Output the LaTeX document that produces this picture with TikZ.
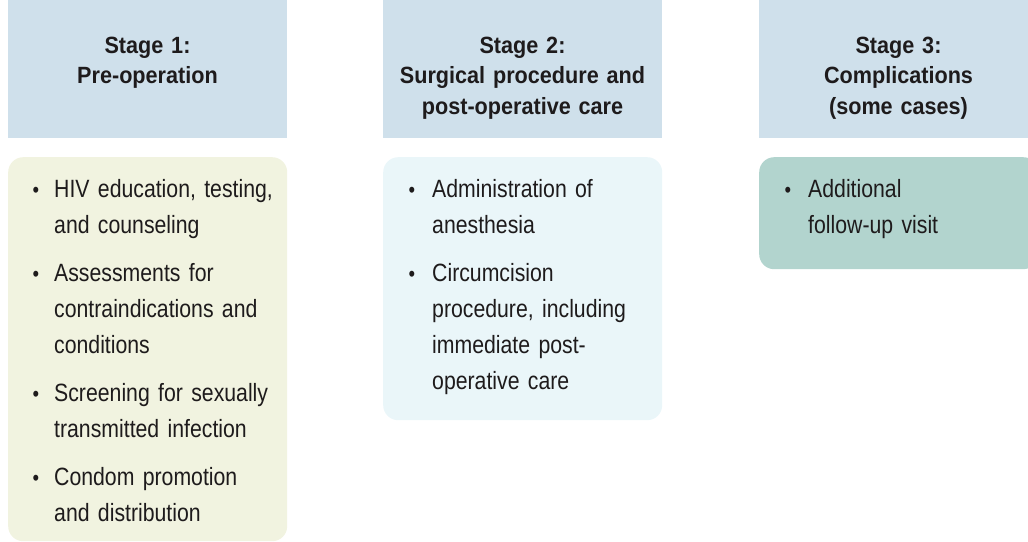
\documentclass[tikz,border=0pt]{standalone}
\usepackage{fontspec}
\setmainfont{Liberation Sans}[FakeStretch=0.85,WordSpace=0.85]
\newfontfamily\hdrfont{Liberation Sans}[FakeStretch=0.92]
\definecolor{hdrblue}{HTML}{CFE0EB}
\definecolor{bodyA}{HTML}{F1F3E0}
\definecolor{bodyB}{HTML}{EAF6F9}
\definecolor{bodyC}{HTML}{B2D4CE}
\definecolor{txt}{HTML}{1E1B1C}
\begin{document}
\begin{tikzpicture}[x=1pt,y=-1pt,
  hdr/.style={fill=hdrblue, draw=none, minimum width=279pt, minimum height=138pt, inner sep=0pt, anchor=north west},
  bodybox/.style={fill=#1, draw=none, rounded corners=15pt, minimum width=279pt, inner sep=0pt, anchor=north west},
  htext/.style={font=\hdrfont\bfseries\fontsize{23.5}{30.5}\selectfont, text width=279pt, align=center, inner sep=0pt, anchor=base, text=txt},
  item/.style={font=\fontsize{25}{36}\selectfont, text width=228pt, align=left, inner sep=0pt, anchor=base west, text=txt},
  bul/.style={font=\fontsize{22}{36}\selectfont, inner sep=0pt, anchor=base, text=txt}]
\useasboundingbox (0,0) rectangle (1028,541);
\clip (0,0) rectangle (1028,541);
% header boxes
\node[hdr] (h1) at (8,0) {};
\node[hdr] (h2) at (383,0) {};
\node[hdr] (h3) at (759,0) {};
\node[htext] (h1t) at (147.5,53) {Stage 1:\\Pre-operation};
\node[htext] (h2t) at (522.5,53) {Stage 2:\\Surgical procedure and\\post-operative care};
\node[htext] (h3t) at (898.5,53) {Stage 3:\\Complications\\(some cases)};
% body boxes
\node[bodybox=bodyA, minimum height=384pt] (b1) at (8,157) {};
\node[bodybox=bodyB, minimum height=263pt] (b2) at (383,157) {};
\node[bodybox=bodyC, minimum height=112pt] (b3) at (759,157) {};
% stage 1 items
\node[bul] (b1i1d) at (36,197) {•};
\node[item] (b1i1) at (54,197) {HIV education, testing,\\and counseling};
\node[bul] (b1i2d) at (36,281) {•};
\node[item] (b1i2) at (54,281) {Assessments for\\contraindications and\\conditions};
\node[bul] (b1i3d) at (36,401) {•};
\node[item] (b1i3) at (54,401) {Screening for sexually\\transmitted infection};
\node[bul] (b1i4d) at (36,485) {•};
\node[item] (b1i4) at (54,485) {Condom promotion\\and distribution};
% stage 2 items
\node[bul] (b2i1d) at (412,197) {•};
\node[item] (b2i1) at (432,197) {Administration of\\anesthesia};
\node[bul] (b2i2d) at (412,281) {•};
\node[item] (b2i2) at (432,281) {Circumcision\\procedure, including\\immediate post-\\operative care};
% stage 3 items
\node[bul] (b3i1d) at (788,197) {•};
\node[item] (b3i1) at (808,197) {Additional\\follow-up visit};
\end{tikzpicture}
\end{document}
